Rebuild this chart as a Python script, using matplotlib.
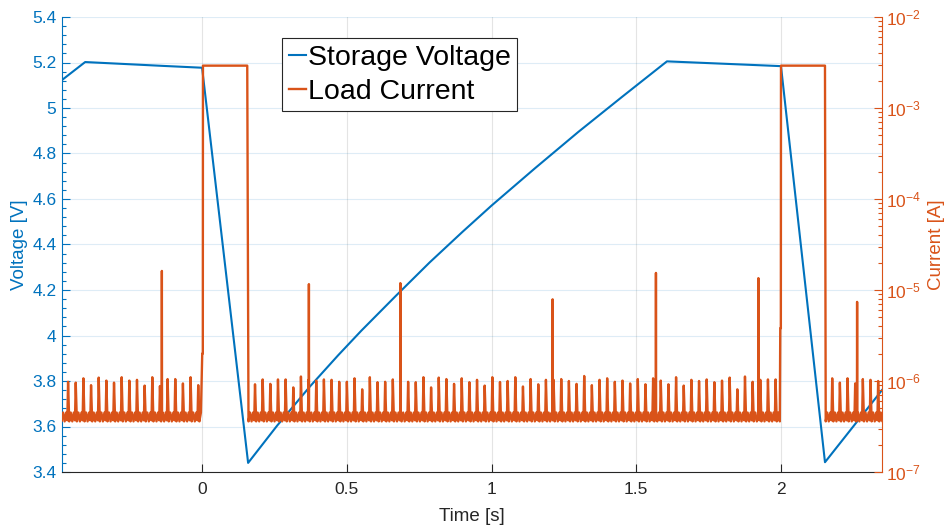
"""
Storage voltage and load current over one charge / discharge cycle.
"""

import matplotlib
matplotlib.use("Agg")
import matplotlib.pyplot as plt
from matplotlib.ticker import FuncFormatter, LogLocator, MultipleLocator, NullFormatter
import numpy as np

plt.rcParams["font.family"] = ["Liberation Sans", "DejaVu Sans"]
plt.rcParams["mathtext.fontset"] = "custom"
plt.rcParams["mathtext.rm"] = "Liberation Sans"
plt.rcParams["mathtext.it"] = "Liberation Sans:italic"

BLUE = "#0072BD"
ORANGE = "#D95319"
DARK = "#262626"

# Storage capacitor voltage, breakpoints of the cycle
VOLT_TIME = [-0.484, -0.404, -0.134, 0.0, 0.159, 0.26, 0.372, 0.47, 0.55, 0.67, 0.786, 0.9, 1.0,
             1.15, 1.3, 1.45, 1.606, 2.0, 2.152, 2.349]
VOLT_VALUE = [5.123, 5.202, 5.185, 5.177, 3.440, 3.605, 3.775, 3.913, 4.021, 4.175, 4.321, 4.456, 4.571,
              4.735, 4.895, 5.048, 5.205, 5.184, 3.443, 3.76]

# Active load pulses
LOAD_ON = [0.003, 2.0]
LOAD_OFF = [0.156, 2.152]
LOAD_LEVEL = 2.92e-3
PRE_STEP = [2.0e-6, 3.8e-6]

# Idle current: periodic wake-up spikes (heights in 1e-7 A)
SPIKE_PERIOD = 0.02645
IDLE_WINDOW = [(-0.49, -0.002), (0.157, 1.996), (2.153, 2.36)]
FIRST_SPIKE = [-0.463, 0.1828, 2.177]
SPIKES_A = [9.8, 9.6, 10.7, 9.0, 10.9, 10.1, 9.6, 11.0, 10.1, 10.3, 8.9, 11.0, 8.8, 10.5, 10.5, 9.4, 11.0, 9.0]
SPIKES_B = [9.2, 10.4, 9.3, 10.4, 10.4, 8.5, 11.2, 10.3, 10.1, 10.4, 10.3, 9.8, 9.8, 10.7, 8.1, 11.0,
            9.7, 9.8, 10.4, 10.3, 9.8, 9.7, 11.0, 8.5,
            10.9, 10.5, 9.3, 10.7, 9.7, 10.3, 8.9, 11.0, 9.75, 10.0, 11.0, 8.7, 10.5, 9.2, 10.3, 10.3,
            10.5, 10.0, 9.3, 11.35, 9.0, 10.3, 10.7, 9.8, 10.1,
            9.4, 10.5, 9.2, 10.7, 10.1, 9.2, 11.0, 8.9, 10.3, 10.0, 10.4, 9.7, 10.1, 10.9, 8.1, 11.2,
            9.8, 10.3, 10.4, 10.4]
SPIKES_C = [10.7, 9.6, 10.7, 9.4, 10.5, 10.3, 10.0]

# Baseline ripple within one spike period (levels in 1e-7 A)
RIPPLE_PHASE = [0.0, 0.15, 0.35, 0.55, 0.75, 0.9]
RIPPLE_LEVEL = [3.9, 3.6, 4.5, 3.6, 4.5, 3.7]

# Occasional radio bursts
BURST_TIME = [-0.139, 0.369, 0.685, 1.211, 1.568, 1.922, 2.263]
BURST_VALUE = [1.62e-5, 1.16e-5, 1.19e-5, 7.9e-6, 1.54e-5, 1.35e-5, 7.4e-6]


def idle_segment(t0, t1, first, heights):
    times, amps = [], []
    for k in range(-2, len(heights) + 1):
        start = first + k * SPIKE_PERIOD
        for phase, level in zip(RIPPLE_PHASE, RIPPLE_LEVEL):
            t = start + phase * SPIKE_PERIOD
            if phase == 0.0 and 0 <= k < len(heights):
                level = heights[k]
            if t0 < t < t1:
                times.append(t)
                amps.append(level * 1e-7)
    return times, amps


def build_current():
    times, amps = [], []
    for (t0, t1), first, heights in zip(IDLE_WINDOW, FIRST_SPIKE, [SPIKES_A, SPIKES_B, SPIKES_C]):
        t, a = idle_segment(t0, t1, first, heights)
        times += t
        amps += a
    for on, off, step in zip(LOAD_ON, LOAD_OFF, PRE_STEP):
        times += [on - 0.0025, on - 0.0005, on, off]
        amps += [step, step, LOAD_LEVEL, LOAD_LEVEL]
    for t, v in zip(BURST_TIME, BURST_VALUE):
        times += [t - 0.0006, t, t + 0.0006]
        amps += [4.0e-7, v, 4.0e-7]
    times = np.array(times)
    amps = np.array(amps)
    order = np.argsort(times, kind="stable")
    return times[order], amps[order]


fig = plt.figure(figsize=(9.48, 5.28), dpi=100)
ax = fig.add_axes([62 / 948, 56 / 528, 820 / 948, 455 / 528])
ax2 = ax.twinx()

cur_t, cur_a = build_current()
l1, = ax.plot(VOLT_TIME, VOLT_VALUE, color=BLUE, lw=1.5, label="Storage Voltage")
l2, = ax2.plot(cur_t, cur_a, color=ORANGE, lw=1.7, label="Load Current")
ax2.set_yscale("log")

ax.set_xlim(-0.484, 2.349)
ax.set_ylim(3.4, 5.4)
ax2.set_ylim(1e-7, 1e-2)

# grid in the style of the axis colours
ax.set_axisbelow(True)
ax.xaxis.grid(True, color=DARK, alpha=0.12, lw=0.8)
ax.yaxis.grid(True, color=BLUE, alpha=0.13, lw=0.8)

for name in ("top", "right"):
    ax.spines[name].set_visible(False)
for name in ("top", "left", "bottom"):
    ax2.spines[name].set_visible(False)
ax.spines["left"].set_color(BLUE)
ax.spines["bottom"].set_color(DARK)
ax2.spines["right"].set_color(ORANGE)
for sp in list(ax.spines.values()) + list(ax2.spines.values()):
    sp.set_linewidth(0.8)

ax.set_xticks([0, 0.5, 1, 1.5, 2])
ax.xaxis.set_major_formatter(FuncFormatter(lambda v, _: f"{v:g}"))
ax.yaxis.set_major_locator(MultipleLocator(0.2))
ax.yaxis.set_minor_locator(MultipleLocator(0.04))
ax.yaxis.set_major_formatter(FuncFormatter(lambda v, _: f"{v:g}"))
ax2.yaxis.set_major_locator(LogLocator(base=10, numticks=10))
ax2.yaxis.set_minor_locator(LogLocator(base=10, subs=np.arange(2, 10), numticks=10))
ax2.yaxis.set_minor_formatter(NullFormatter())
ax2.yaxis.set_major_formatter(FuncFormatter(lambda v, _: r"$\mathregular{10^{%d}}$" % round(np.log10(v))))

ax.tick_params(axis="x", direction="in", length=6, width=0.8, colors=DARK, labelsize=12.5, pad=7)
ax.tick_params(axis="y", which="major", direction="in", length=6, width=0.8, colors=BLUE, labelsize=12.5, pad=4)
ax.tick_params(axis="y", which="minor", direction="in", length=3.2, width=0.8, colors=BLUE)
ax2.tick_params(axis="y", which="major", direction="in", length=6, width=0.8, colors=ORANGE, labelsize=12.5, pad=3)
ax2.tick_params(axis="y", which="minor", direction="in", length=3.2, width=0.8, colors=ORANGE)

ax.set_xlabel("Time [s]", fontsize=13.5, color=DARK, labelpad=8)
ax.set_ylabel("Voltage [V]", fontsize=13.5, color=BLUE, labelpad=3)
ax2.set_ylabel("Current [A]", fontsize=13.5, color=ORANGE, labelpad=5)

leg = ax2.legend([l1, l2], [l1.get_label(), l2.get_label()], loc="upper left",
                 bbox_to_anchor=(0.2687, 0.953), borderaxespad=0, fontsize=20.5,
                 handlelength=0.6, handletextpad=0.08, borderpad=0.22, labelspacing=0.3,
                 fancybox=False, framealpha=1)
leg.get_frame().set_edgecolor(DARK)
leg.get_frame().set_linewidth(0.8)

fig.savefig("out.png", dpi=100)
